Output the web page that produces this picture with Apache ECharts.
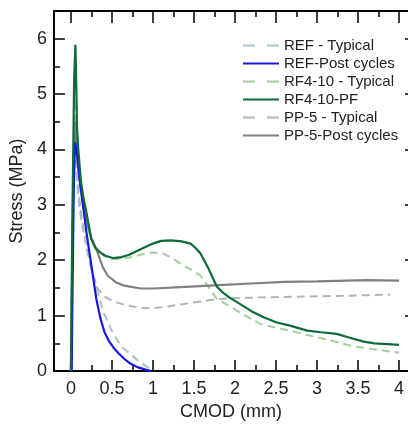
<!DOCTYPE html>
<html>
<head>
<meta charset="utf-8">
<script src="https://cdn.jsdelivr.net/npm/echarts@6/dist/echarts.min.js"></script>
<style>
html, body { margin: 0; padding: 0; background: #fff; }
#chart { width: 408px; height: 426px; }
</style>
</head>
<body>
<div id="chart"></div>
<script>
// tick values
var xMajor = [0, 0.5, 1, 1.5, 2, 2.5, 3, 3.5, 4];
var xMinor = [0.25, 0.75, 1.25, 1.75, 2.25, 2.75, 3.25, 3.75];
var yMajor = [0, 1, 2, 3, 4, 5, 6];
var yMinor = [0.5, 1.5, 2.5, 3.5, 4.5, 5.5];

// curves, [CMOD mm, stress MPa]
var refTypical = [[0,0],[0.02,2.8],[0.04,4.1],[0.05,4.25],[0.06,4.0],[0.075,3.4],[0.1,3.0],[0.14,2.6],[0.2,2.2],
	[0.26,1.8],[0.33,1.4],[0.4,1.05],[0.5,0.72],[0.61,0.45],[0.73,0.3],[0.85,0.15],[0.95,0.06],[1.02,0.02]];
var refPost = [[0.01,0],[0.02,1.5],[0.035,3.3],[0.05,4.13],[0.06,4.05],[0.075,3.9],[0.09,3.7],[0.12,3.3],[0.16,2.85],
	[0.19,2.5],[0.22,2.2],[0.25,1.9],[0.28,1.6],[0.31,1.3],[0.36,0.95],[0.41,0.7],[0.46,0.55],[0.52,0.42],
	[0.58,0.32],[0.65,0.22],[0.73,0.13],[0.81,0.07],[0.9,0.03],[0.98,0]];
var rfTypical = [[0,0],[0.02,2.5],[0.045,4.6],[0.055,4.9],[0.07,4.3],[0.09,3.8],[0.12,3.35],[0.16,2.95],[0.2,2.65],
	[0.25,2.35],[0.3,2.2],[0.4,2.08],[0.5,2.02],[0.6,2.02],[0.75,2.06],[0.9,2.12],[1.0,2.14],[1.13,2.12],
	[1.25,2.02],[1.38,1.9],[1.5,1.8],[1.58,1.72],[1.65,1.58],[1.72,1.42],[1.78,1.3],[1.9,1.2],[1.99,1.12],
	[2.15,0.98],[2.31,0.85],[2.5,0.78],[2.67,0.73],[2.85,0.66],[3.0,0.61],[3.2,0.54],[3.4,0.46],[3.6,0.41],
	[3.81,0.37],[4.0,0.33]];
var rfPF = [[0,0],[0.02,3.0],[0.04,5.3],[0.055,5.89],[0.065,5.2],[0.075,4.4],[0.09,4.0],[0.12,3.46],[0.15,3.15],
	[0.19,2.86],[0.25,2.38],[0.3,2.22],[0.35,2.15],[0.42,2.08],[0.51,2.04],[0.6,2.05],[0.71,2.1],[0.85,2.2],
	[1.0,2.3],[1.1,2.35],[1.22,2.36],[1.35,2.34],[1.46,2.3],[1.52,2.22],[1.58,2.12],[1.63,1.98],[1.68,1.84],
	[1.73,1.68],[1.78,1.52],[1.85,1.42],[1.93,1.33],[2.03,1.24],[2.2,1.08],[2.35,0.97],[2.5,0.88],[2.67,0.82],
	[2.88,0.73],[3.05,0.7],[3.24,0.67],[3.4,0.6],[3.57,0.53],[3.7,0.5],[3.81,0.49],[4.0,0.47]];
var ppTypical = [[0,0],[0.02,2.5],[0.045,4.4],[0.055,4.5],[0.07,3.8],[0.09,3.3],[0.12,2.9],[0.16,2.5],[0.2,2.15],
	[0.25,1.85],[0.32,1.5],[0.4,1.35],[0.5,1.27],[0.57,1.23],[0.7,1.18],[0.85,1.14],[0.97,1.13],[1.1,1.15],
	[1.38,1.21],[1.6,1.26],[1.78,1.3],[2.1,1.32],[2.39,1.33],[2.7,1.34],[3.0,1.35],[3.4,1.36],[3.89,1.38]];
var ppPost = [[0,0],[0.03,3.5],[0.05,4.5],[0.07,4.0],[0.1,3.5],[0.15,3.0],[0.2,2.65],[0.25,2.4],[0.31,2.2],
	[0.39,1.87],[0.45,1.72],[0.55,1.6],[0.65,1.54],[0.85,1.49],[1.0,1.49],[1.4,1.52],[1.8,1.55],[2.2,1.58],
	[2.6,1.61],[3.0,1.62],[3.6,1.64],[4.0,1.63]];

var FONT = 'Liberation Sans, Arial, sans-serif';
var X_MIN = -0.207, X_MAX = 4.109;

function xAxisDef(pos, ticks, len, withLabels){
	return {
		type: 'value', position: pos, min: X_MIN, max: X_MAX,
		axisLine: {show: true, onZero: false, lineStyle: {color: '#000', width: 2}},
		axisTick: {show: true, inside: true, length: len, customValues: ticks, lineStyle: {color: '#000', width: 1.5}},
		axisLabel: withLabels ? {show: true, customValues: ticks, fontSize: 18, margin: 9, color: '#222', fontFamily: FONT} : {show: false},
		splitLine: {show: false}
	};
}
function yAxisDef(pos, ticks, len, withLabels, withLine){
	return {
		type: 'value', position: pos, min: 0, max: 6.5,
		axisLine: {show: withLine, onZero: false, lineStyle: {color: '#000', width: 2}},
		axisTick: {show: true, inside: true, length: len, customValues: ticks, lineStyle: {color: '#000', width: 1.5}},
		axisLabel: withLabels ? {show: true, customValues: ticks, fontSize: 18, margin: 7, color: '#222', fontFamily: FONT} : {show: false},
		splitLine: {show: false}
	};
}

var xAxes = [xAxisDef('bottom', xMajor, 11, true), xAxisDef('bottom', xMinor, 6, false),
	xAxisDef('top', xMajor, 12, false), xAxisDef('top', xMinor, 6, false)];
xAxes[0].name = 'CMOD (mm)';
xAxes[0].nameLocation = 'middle';
xAxes[0].nameGap = 32;
xAxes[0].nameTextStyle = {fontSize: 18, color: '#222', fontFamily: FONT};

var yAxes = [yAxisDef('left', yMajor, 11, true, true), yAxisDef('left', yMinor, 6, false, true),
	yAxisDef('right', yMajor, 3, false, false)];
yAxes[0].name = 'Stress (MPa)';
yAxes[0].nameLocation = 'middle';
yAxes[0].nameGap = 20;
yAxes[0].nameTextStyle = {fontSize: 18, color: '#222', fontFamily: FONT};

function line(name, data, color, dashed, width){
	return {
		name: name, type: 'line', data: data, symbol: 'none', smooth: false,
		xAxisIndex: 0, yAxisIndex: 0,
		lineStyle: {color: color, width: width, type: dashed ? [8, 5] : 'solid'},
		itemStyle: {color: color}
	};
}

// legend icons: plain bar for solid, two bars for dashed
var SOLID_ICON = 'rect';
var DASH_ICON = 'path://M0,0h12v2h-12zM24,0h12v2h-12z';

var option = {
	animation: false,
	backgroundColor: '#fff',
	grid: {left: 53, right: 0, top: 11, bottom: 54, containLabel: false},
	xAxis: xAxes,
	yAxis: yAxes,
	legend: {
		orient: 'vertical', left: 243, top: 38, padding: 0,
		itemWidth: 36, itemHeight: 2, itemGap: 3,
		textStyle: {fontSize: 15, color: '#222', fontFamily: FONT},
		data: [
			{name: 'REF - Typical', icon: DASH_ICON},
			{name: 'REF-Post cycles', icon: SOLID_ICON},
			{name: 'RF4-10 - Typical', icon: DASH_ICON},
			{name: 'RF4-10-PF', icon: SOLID_ICON},
			{name: 'PP-5 - Typical', icon: DASH_ICON},
			{name: 'PP-5-Post cycles', icon: SOLID_ICON}
		]
	},
	series: [
		line('PP-5 - Typical', ppTypical, '#b4b4b4', true, 2),
		line('REF - Typical', refTypical, '#a6c3cf', true, 2),
		line('RF4-10 - Typical', rfTypical, '#a2d09c', true, 2),
		line('PP-5-Post cycles', ppPost, '#808080', false, 2.2),
		line('REF-Post cycles', refPost, '#1717e0', false, 2.2),
		line('RF4-10-PF', rfPF, '#0d6b3a', false, 2.2)
	]
};

var chart = echarts.init(document.getElementById('chart'));
chart.setOption(option);
</script>
</body>
</html>
